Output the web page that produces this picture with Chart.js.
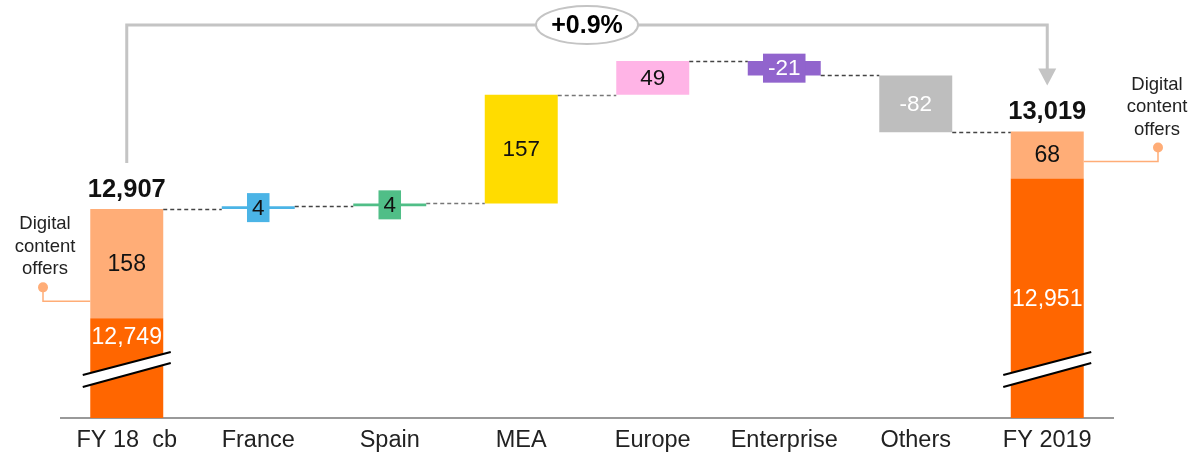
<!DOCTYPE html>
<html>
<head>
<meta charset="utf-8">
<script src="https://cdn.jsdelivr.net/npm/chart.js@4.4.1/dist/chart.umd.min.js"></script>
<style>
  html, body { margin: 0; padding: 0; background: #fff; }
  #wrap { width: 1195px; height: 458px; }
</style>
</head>
<body>
<div id="wrap"><canvas id="myChart" width="1195" height="458"></canvas></div>
<script>
// data
const categories = ['FY 18  cb', 'France', 'Spain', 'MEA', 'Europe', 'Enterprise', 'Others', 'FY 2019'];
const coreValues = [12749, null, null, null, null, null, null, 12951];
const digitalValues = [158, null, null, null, null, null, null, 68];
const changes = [null, 4, 4, 157, 49, -21, -82, null];
const changeColors = [null, '#4BB4E6', '#50BE87', '#FFDC00', '#FFB4E6', '#9164CD', '#BEBEBE', null];
const changeTextColors = [null, '#111', '#111', '#111', '#111', '#fff', '#fff', null];
const axisMin = 12605; // broken axis
const axisMax = 13209;
const growthLabel = '+0.9%';
const calloutText = ['Digital', 'content', 'offers'];

const ORANGE = '#FF6600';
const LIGHT_ORANGE = '#FFAD77';
const FONT = '"Liberation Sans", Arial, Helvetica, sans-serif';

function fmt(v) { return v.toLocaleString('en-US'); }

// floating bars
const coreBars = coreValues.map(v => v == null ? null : [axisMin, v]);
const digitalBars = digitalValues.map((v, i) => v == null ? null : [coreValues[i], coreValues[i] + v]);
let run = coreValues[0] + digitalValues[0];
const changeBars = changes.map(d => {
    if (d == null) return null;
    const seg = [run, run + d];
    run += d;
    return seg;
});

const extras = {
    id: 'extras',
    afterDatasetsDraw(chart) {
        const ctx = chart.ctx;
        const y = chart.scales.y;
        const area = chart.chartArea;
        const core = chart.getDatasetMeta(0).data;
        const dig = chart.getDatasetMeta(1).data;
        const chg = chart.getDatasetMeta(2).data;
        const last = categories.length - 1;
        ctx.save();

        // connectors
        const ends = [];
        ends[0] = { right: dig[0].x + dig[0].width / 2, y: dig[0].y };
        for (let i = 1; i < last; i++) {
            const b = chg[i];
            ends[i] = { right: b.x + b.width / 2, y: y.getPixelForValue(changeBars[i][1]) };
        }
        ctx.setLineDash([4, 3]);
        ctx.lineWidth = 1.5;
        for (let i = 0; i < last; i++) {
            const next = i + 1 < last ? chg[i + 1] : dig[last];
            ctx.strokeStyle = (i === 2 || i === 3) ? '#777' : '#444';
            ctx.beginPath();
            ctx.moveTo(ends[i].right, Math.round(ends[i].y) + 0.5);
            ctx.lineTo(next.x - next.width / 2, Math.round(ends[i].y) + 0.5);
            ctx.stroke();
        }
        ctx.setLineDash([]);

        // change labels
        ctx.textAlign = 'center';
        ctx.textBaseline = 'middle';
        ctx.font = '22.5px ' + FONT;
        for (let i = 1; i < last; i++) {
            const b = chg[i];
            const top = Math.min(b.y, b.base), bot = Math.max(b.y, b.base);
            const cy = (top + bot) / 2;
            const txt = String(changes[i]);
            if (bot - top < 30) {
                const w = ctx.measureText(txt).width + 10;
                ctx.fillStyle = changeColors[i];
                ctx.fillRect(b.x - w / 2, cy - 14.5, w, 29);
            }
            ctx.fillStyle = changeTextColors[i];
            ctx.fillText(txt, b.x, cy + 1);
        }

        // break marks, total bars
        const breakTop = area.bottom - 66;
        [0, last].forEach(i => {
            const b = core[i];
            const xL = b.x - 44, xR = b.x + 44;
            const b0 = area.bottom;
            ctx.fillStyle = '#fff';
            ctx.beginPath();
            ctx.moveTo(xL, b0 - 43);
            ctx.lineTo(xR, b0 - 66);
            ctx.lineTo(xR, b0 - 55);
            ctx.lineTo(xL, b0 - 31);
            ctx.closePath();
            ctx.fill();
            ctx.strokeStyle = '#000';
            ctx.lineWidth = 2;
            ctx.beginPath();
            ctx.moveTo(xL, b0 - 43); ctx.lineTo(xR, b0 - 66);
            ctx.moveTo(xL, b0 - 31); ctx.lineTo(xR, b0 - 55);
            ctx.stroke();

            // core label
            let cy = (b.y + b.base) / 2;
            if (cy + 12 > breakTop) cy = b.y + 18;
            ctx.fillStyle = '#fff';
            ctx.font = '23px ' + FONT;
            ctx.fillText(fmt(coreValues[i]), b.x, cy + 1);

            // digital label
            const d = dig[i];
            ctx.fillStyle = '#111';
            ctx.fillText(fmt(digitalValues[i]), d.x, (d.y + d.base) / 2 + 1);

            // total label
            ctx.font = 'bold 25.5px ' + FONT;
            ctx.textBaseline = 'alphabetic';
            ctx.fillText(fmt(coreValues[i] + digitalValues[i]), d.x, d.y - 12);
            ctx.textBaseline = 'middle';
        });

        // growth bracket
        const x0 = core[0].x, x1 = core[last].x;
        const yTop = 25;
        const start0 = dig[0].y - 46, tip = dig[last].y - 46;
        ctx.strokeStyle = '#C4C4C4';
        ctx.fillStyle = '#C4C4C4';
        ctx.lineWidth = 3;
        ctx.beginPath();
        ctx.moveTo(x0, start0);
        ctx.lineTo(x0, yTop);
        ctx.lineTo(x1, yTop);
        ctx.lineTo(x1, tip - 16);
        ctx.stroke();
        ctx.beginPath();
        ctx.moveTo(x1 - 9, tip - 17);
        ctx.lineTo(x1 + 9, tip - 17);
        ctx.lineTo(x1, tip);
        ctx.closePath();
        ctx.fill();

        const ex = (x0 + x1) / 2;
        ctx.beginPath();
        ctx.ellipse(ex, yTop, 51, 19, 0, 0, Math.PI * 2);
        ctx.fillStyle = '#fff';
        ctx.fill();
        ctx.lineWidth = 2;
        ctx.stroke();
        ctx.fillStyle = '#000';
        ctx.font = 'bold 25px ' + FONT;
        ctx.fillText(growthLabel, ex, yTop + 1);

        // callouts
        const callouts = [
            { bar: dig[0], textX: 45, dotX: 43, edge: dig[0].x - dig[0].width / 2 },
            { bar: dig[last], textX: 1157, dotX: 1158, edge: dig[last].x + dig[last].width / 2 }
        ];
        callouts.forEach(c => {
            const lineY = c.bar.base - 17;
            const dotY = lineY - 14;
            ctx.strokeStyle = LIGHT_ORANGE;
            ctx.fillStyle = LIGHT_ORANGE;
            ctx.lineWidth = 1.5;
            ctx.beginPath();
            ctx.moveTo(c.dotX, dotY);
            ctx.lineTo(c.dotX, lineY);
            ctx.lineTo(c.edge, lineY);
            ctx.stroke();
            ctx.beginPath();
            ctx.arc(c.dotX, dotY, 5, 0, Math.PI * 2);
            ctx.fill();
            ctx.fillStyle = '#222';
            ctx.font = '18.5px ' + FONT;
            calloutText.forEach((t, k) => {
                ctx.fillText(t, c.textX, dotY - 18 - (calloutText.length - 1 - k) * 22.5);
            });
        });

        ctx.restore();
    }
};

const ctx = document.getElementById('myChart').getContext('2d');
new Chart(ctx, {
    type: 'bar',
    data: {
        labels: categories,
        datasets: [
            { label: 'Core', data: coreBars, backgroundColor: ORANGE },
            { label: 'Digital content offers', data: digitalBars, backgroundColor: LIGHT_ORANGE },
            { label: 'Change', data: changeBars, backgroundColor: changeColors }
        ]
    },
    options: {
        responsive: false,
        animation: false,
        layout: { padding: { left: 61, right: 82, top: 0, bottom: 0 } },
        datasets: { bar: { barPercentage: 0.555, categoryPercentage: 1, borderWidth: 0, borderSkipped: false } },
        plugins: { legend: { display: false }, tooltip: { enabled: false } },
        scales: {
            x: {
                stacked: true,
                grid: { display: false, drawTicks: false },
                border: { display: true, color: '#999', width: 2 },
                ticks: { color: '#222', font: { size: 23.5, family: FONT }, padding: 8, maxRotation: 0, autoSkip: false },
                afterFit(scale) { scale.height = 40; }
            },
            y: {
                display: false,
                stacked: false,
                min: axisMin,
                max: axisMax
            }
        }
    },
    plugins: [extras]
});
</script>
</body>
</html>
